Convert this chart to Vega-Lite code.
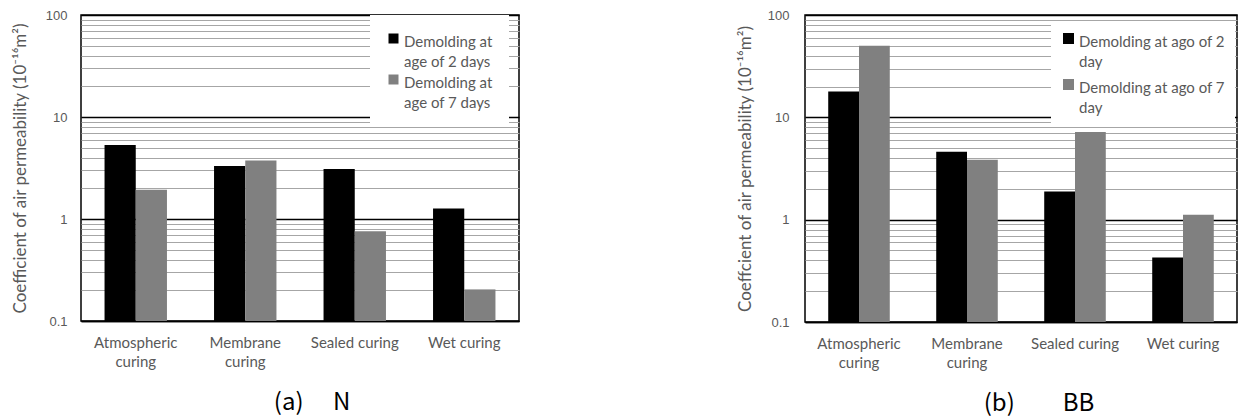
{
  "$schema": "https://vega.github.io/schema/vega-lite/v6.json",
  "background": "white",
  "padding": {"left": 10, "top": 8, "right": 0, "bottom": 0},
  "autosize": {"type": "pad"},
  "config": {
    "view": {"stroke": "black", "strokeWidth": 1.5},
    "font": "Lato"
  },
  "datasets": {
    "N": [
      {"curing": "Atmospheric curing", "series": "Demolding at|age of 2 days", "value": 5.3},
      {"curing": "Atmospheric curing", "series": "Demolding at|age of 7 days", "value": 1.94},
      {"curing": "Membrane curing", "series": "Demolding at|age of 2 days", "value": 3.3},
      {"curing": "Membrane curing", "series": "Demolding at|age of 7 days", "value": 3.74},
      {"curing": "Sealed curing", "series": "Demolding at|age of 2 days", "value": 3.1},
      {"curing": "Sealed curing", "series": "Demolding at|age of 7 days", "value": 0.76},
      {"curing": "Wet curing", "series": "Demolding at|age of 2 days", "value": 1.27},
      {"curing": "Wet curing", "series": "Demolding at|age of 7 days", "value": 0.204}
    ],
    "BB": [
      {"curing": "Atmospheric curing", "series": "Demolding at ago of 2|day", "value": 17.9},
      {"curing": "Atmospheric curing", "series": "Demolding at ago of 7|day", "value": 50},
      {"curing": "Membrane curing", "series": "Demolding at ago of 2|day", "value": 4.62},
      {"curing": "Membrane curing", "series": "Demolding at ago of 7|day", "value": 3.86},
      {"curing": "Sealed curing", "series": "Demolding at ago of 2|day", "value": 1.89},
      {"curing": "Sealed curing", "series": "Demolding at ago of 7|day", "value": 7.19},
      {"curing": "Wet curing", "series": "Demolding at ago of 2|day", "value": 0.428},
      {"curing": "Wet curing", "series": "Demolding at ago of 7|day", "value": 1.12}
    ]
  },
  "spacing": 215,
  "resolve": {"scale": {"color": "independent", "y": "independent", "x": "independent", "xOffset": "independent"}, "legend": {"color": "independent"}},
  "hconcat": [
    {
      "width": 438,
      "height": 306,
      "data": {"name": "N"},
      "title": {"text": "(a)　 N", "orient": "bottom", "anchor": "middle", "offset": 22, "dx": 12, "font": "Noto Sans CJK JP", "fontSize": 24, "fontWeight": "normal", "color": "black"},
      "mark": {"type": "bar"},
      "encoding": {
        "x": {
          "field": "curing", "type": "nominal", "sort": null, "title": null,
          "scale": {"paddingInner": 0.43, "paddingOuter": 0.215},
          "axis": {"labelAngle": 0, "ticks": false, "domainColor": "black", "domainWidth": 1.5, "labelFont": "Lato", "labelFontSize": 15, "labelColor": "#595959", "labelPadding": 14, "labelLineHeight": 19,
            "labelExpr": "datum.value == 'Atmospheric curing' ? ['Atmospheric', 'curing'] : datum.value == 'Membrane curing' ? ['Membrane', 'curing'] : datum.label"}
        },
        "xOffset": {"field": "series", "type": "nominal", "sort": null, "scale": {"paddingInner": 0, "paddingOuter": 0}},
        "y": {
          "field": "value", "type": "quantitative", "stack": null,
          "title": "Coefficient of air permeability (10⁻¹⁶m²)",
          "scale": {"type": "log", "domain": [0.1, 100]},
          "axis": {
            "values": [0.1, 0.2, 0.3, 0.4, 0.5, 0.6, 0.7, 0.8, 0.9, 1, 2, 3, 4, 5, 6, 7, 8, 9, 10, 20, 30, 40, 50, 60, 70, 80, 90, 100],
            "labelExpr": "abs(log(datum.value)/LN10 - round(log(datum.value)/LN10)) < 0.01 ? format(datum.value, '~g') : ''",
            "labelOverlap": false,
            "grid": true,
            "gridColor": {"condition": {"test": "abs(log(datum.value)/LN10 - round(log(datum.value)/LN10)) < 0.01", "value": "#000000"}, "value": "#a6a6a6"},
            "gridWidth": {"condition": {"test": "abs(log(datum.value)/LN10 - round(log(datum.value)/LN10)) < 0.01", "value": 1.5}, "value": 1},
            "ticks": false, "domain": false,
            "labelFont": "Liberation Sans", "labelFontSize": 13, "labelColor": "#595959", "labelPadding": 14,
            "titleFont": "Lato", "titleFontSize": 17, "titleColor": "#595959", "titleFontWeight": "normal", "titlePadding": 16
          }
        },
        "color": {
          "field": "series", "type": "nominal", "sort": null,
          "scale": {"range": ["#000000", "#808080"]},
          "legend": {
            "orient": "none", "legendX": 289, "legendY": 0, "title": null,
            "fillColor": "white", "padding": 16, "symbolType": "square", "symbolSize": 100, "symbolStrokeWidth": 0, "symbolOpacity": 1,
            "labelFont": "Lato", "labelFontSize": 15, "labelColor": "#595959", "labelOffset": 3, "rowPadding": 2, "labelLimit": 300,
            "labelExpr": "split(datum.label, '|')",
            "encode": {"labels": {"update": {"lineHeight": {"value": 20}, "dy": {"value": 3}}}}
          }
        }
      }
    },
    {
      "width": 432,
      "height": 307,
      "data": {"name": "BB"},
      "title": {"text": "(b)　　BB", "orient": "bottom", "anchor": "middle", "offset": 22, "dx": 18, "font": "Noto Sans CJK JP", "fontSize": 24, "fontWeight": "normal", "color": "black"},
      "mark": {"type": "bar"},
      "encoding": {
        "x": {
          "field": "curing", "type": "nominal", "sort": null, "title": null,
          "scale": {"paddingInner": 0.43, "paddingOuter": 0.215},
          "axis": {"labelAngle": 0, "ticks": false, "domainColor": "black", "domainWidth": 1.5, "labelFont": "Lato", "labelFontSize": 15, "labelColor": "#595959", "labelPadding": 14, "labelLineHeight": 19,
            "labelExpr": "datum.value == 'Atmospheric curing' ? ['Atmospheric', 'curing'] : datum.value == 'Membrane curing' ? ['Membrane', 'curing'] : datum.label"}
        },
        "xOffset": {"field": "series", "type": "nominal", "sort": null, "scale": {"paddingInner": 0, "paddingOuter": 0}},
        "y": {
          "field": "value", "type": "quantitative", "stack": null,
          "title": "Coeffcient of air permeability (10⁻¹⁶m²)",
          "scale": {"type": "log", "domain": [0.1, 100]},
          "axis": {
            "values": [0.1, 0.2, 0.3, 0.4, 0.5, 0.6, 0.7, 0.8, 0.9, 1, 2, 3, 4, 5, 6, 7, 8, 9, 10, 20, 30, 40, 50, 60, 70, 80, 90, 100],
            "labelExpr": "abs(log(datum.value)/LN10 - round(log(datum.value)/LN10)) < 0.01 ? format(datum.value, '~g') : ''",
            "labelOverlap": false,
            "grid": true,
            "gridColor": {"condition": {"test": "abs(log(datum.value)/LN10 - round(log(datum.value)/LN10)) < 0.01", "value": "#000000"}, "value": "#a6a6a6"},
            "gridWidth": {"condition": {"test": "abs(log(datum.value)/LN10 - round(log(datum.value)/LN10)) < 0.01", "value": 1.5}, "value": 1},
            "ticks": false, "domain": false,
            "labelFont": "Liberation Sans", "labelFontSize": 13, "labelColor": "#595959", "labelPadding": 16,
            "titleFont": "Lato", "titleFontSize": 17, "titleColor": "#595959", "titleFontWeight": "normal", "titlePadding": 13
          }
        },
        "color": {
          "field": "series", "type": "nominal", "sort": null,
          "scale": {"range": ["#000000", "#808080"]},
          "legend": {
            "orient": "none", "legendX": 246, "legendY": 6, "title": null,
            "fillColor": "white", "padding": 10, "symbolType": "square", "symbolSize": 121, "symbolStrokeWidth": 0, "symbolOpacity": 1,
            "labelFont": "Lato", "labelFontSize": 15, "labelColor": "#595959", "labelOffset": 3, "rowPadding": 7, "labelLimit": 300,
            "labelExpr": "split(datum.label, '|')",
            "encode": {"labels": {"update": {"lineHeight": {"value": 20}, "dy": {"value": 3}}}}
          }
        }
      }
    }
  ]
}
